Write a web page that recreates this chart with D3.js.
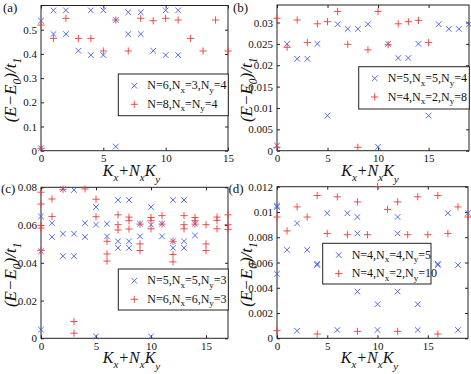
<!DOCTYPE html>
<html>
<head>
<meta charset="utf-8">
<script src="https://cdn.jsdelivr.net/npm/d3@7"></script>
<style>
  body { margin: 0; background: #fff; }
  svg { display: block; }
  svg text { font-family: "Times New Roman", "Liberation Serif", "DejaVu Serif", serif; fill: #111; }
</style>
</head>
<body>
<div id="chart"></div>
<script>
"use strict";

// panel (a): N=6,Nx=3,Ny=4 (blue x) and N=8,Nx=Ny=4 (red +)
var aBlue = [[0,0.537],[0,0.01],[1,0.482],[1,0.58],[2,0.58],[2,0.482],[3,0.413],[4,0.58],[4,0.395],
  [5,0.58],[5,0.395],[6,0.54],[6,0.017],[7,0.572],[7,0.482],[8,0.572],[8,0.482],[9,0.413],
  [10,0.58],[10,0.395],[11,0.58],[11,0.395]];
var aRed = [[0,0.519],[0,0.01],[1,0.464],[2,0.547],[3,0.464],[4,0.464],[5,0.412],[6,0.54],[7,0.412],
  [8,0.547],[9,0.537],[10,0.547],[11,0.54],[12,0.464],[13,0.412],[14,0.54],[15,0.412]];

// panel (b): N=5,Nx=5,Ny=4 (blue x) and N=4,Nx=2,Ny=8 (red +)
var bBlue = [[0,0.0012],[1,0.025],[2,0.0215],[3,0.0215],[4,0.025],[5,0.0082],[6,0.0296],[7,0.0285],
  [8,0.0285],[9,0.0296],[10,0.0009],[11,0.025],[12,0.0217],[13,0.0217],[14,0.025],[15,0.0082],
  [16,0.0296],[17,0.0285],[18,0.0285],[19,0.0296]];
var bRed = [[0,0.031],[0,0.0008],[1,0.0242],[2,0.0306],[3,0.0253],[4,0.0297],[5,0.0302],[6,0.0326],
  [7,0.0249],[8,0.0008],[9,0.0236],[10,0.0326],[11,0.0248],[12,0.0297],[13,0.0302],[14,0.0305],
  [15,0.0253]];

// panel (c): N=5,Nx=5,Ny=3 (blue x) and N=6,Nx=6,Ny=3 (red +)
var cBlue = [[0,0.0646],[0,0.0461],[0,0.0046],[1,0.061],[1,0.0537],[2,0.079],[2,0.0554],[2,0.0435],
  [3,0.0786],[3,0.0554],[3,0.0435],[4,0.061],[4,0.0537],[5,0.0695],[5,0.0602],[5,0.001],
  [6,0.0607],[6,0.054],[7,0.0733],[7,0.0514],[7,0.0479],[8,0.0733],[8,0.0514],[8,0.0479],
  [9,0.0607],[9,0.054],[10,0.0695],[10,0.0602],[10,0.001],[11,0.0607],[11,0.054],
  [12,0.0733],[12,0.0514],[12,0.0479],[13,0.0733],[13,0.0514],[13,0.0479],[14,0.0607],[14,0.0545]];
var cRed = [[0,0.0774],[0,0.0711],[0,0.0598],[0,0.0584],[0,0.0465],[1,0.0738],[1,0.0645],[2,0.0789],
  [3,0.0089],[3,0.0027],[4,0.0791],[5,0.0737],[5,0.0644],[6,0.0514],[6,0.0447],[6,0.0409],
  [7,0.0654],[7,0.0602],[7,0.0574],[8,0.0642],[8,0.0623],[8,0.0579],[9,0.0605],[9,0.05],[9,0.0465],
  [10,0.064],[10,0.0623],[10,0.058],[11,0.065],[11,0.0605],[12,0.0514],[12,0.0444],[12,0.0405],
  [13,0.065],[13,0.0602],[13,0.058],[14,0.064],[14,0.0623],[14,0.0605],[15,0.0602],[15,0.05],
  [15,0.0465],[16,0.0642],[16,0.0625],[16,0.058],[17,0.0654],[17,0.0602],[17,0.0577]];

// panel (d): N=4,Nx=4,Ny=5 (blue x) and N=4,Nx=2,Ny=10 (red +)
var dBlue = [[0,0.0105],[0,0.0104],[0,0.0051],[1,0.007],[2,0.0091],[2,0.0006],[3,0.007],[4,0.0058],
  [4,0.0059],[5,0.0099],[6,0.00066],[7,0.0099],[8,0.0096],[8,0.0083],[8,0.0037],[10,0.0027],
  [10,0.00066],[12,0.0096],[12,0.0083],[12,0.0037],[14,0.0027],[14,0.00066],[16,0.0058],[16,0.0059],
  [17,0.0099],[18,0.0058],[18,0.00066],[19,0.0099]];
var dRed = [[0,0.0096],[0,0.0006],[1,0.0085],[2,0.0104],[3,0.0096],[4,0.0113],[4,0.00034],[5,0.0083],
  [6,0.0112],[7,0.0082],[8,0.0108],[8,0.00055],[9,0.0082],[10,0.012],[11,0.0102],[12,0.0108],
  [12,0.00055],[13,0.0082],[14,0.0112],[15,0.0082],[16,0.0113],[16,0.00034],[17,0.0083],[18,0.0104],
  [19,0.0096]];

var xTicks = [0, 5, 10, 15];
var aYTicks = [0, 0.1, 0.2, 0.3, 0.4, 0.5];
var bYTicks = [0, 0.005, 0.01, 0.015, 0.02, 0.025, 0.03];
var cYTicks = [0, 0.02, 0.04, 0.06, 0.08];
var dYTicks = [0, 0.002, 0.004, 0.006, 0.008, 0.01, 0.012];

var panelTags = ["(a)", "(b)", "(c)", "(d)"];
var legendNames = [
  [["N=6,N", "x", "=3,N", "y", "=4"], ["N=8,N", "x", "=N", "y", "=4"]],
  [["N=5,N", "x", "=5,N", "y", "=4"], ["N=4,N", "x", "=2,N", "y", "=8"]],
  [["N=5,N", "x", "=5,N", "y", "=3"], ["N=6,N", "x", "=6,N", "y", "=3"]],
  [["N=4,N", "x", "=4,N", "y", "=5"], ["N=4,N", "x", "=2,N", "y", "=10"]]
];

var SERIF = "'Times New Roman', 'Liberation Serif', 'DejaVu Serif', serif";
var BLUE = "#3f5cf0";
var RED = "#f03a3a";

var panels = [
  { box: [41, 228, 5.5, 150.7], xMax: 15, yMax: 0.6, yTicks: aYTicks, blue: aBlue, red: aRed,
    legend: [118.3, 74, 110, 41.7], tag: [3, 12] },
  { box: [277, 469, 5, 150.7], xMax: 19, yMax: 0.0341, yTicks: bYTicks, blue: bBlue, red: bRed,
    legend: [358.7, 66.7, 110.6, 42.3], tag: [233, 12] },
  { box: [41, 228, 187.3, 338.3], xMax: 17, yMax: 0.08, yTicks: cYTicks, blue: cBlue, red: cRed,
    legend: [118.3, 269, 110, 41], tag: [1, 193] },
  { box: [277, 468, 186.7, 338.3], xMax: 19, yMax: 0.012, yTicks: dYTicks, blue: dBlue, red: dRed,
    legend: [322.7, 243.3, 108.3, 40.7], tag: [228.5, 193] }
];

var svg = d3.select("#chart").append("svg")
  .attr("width", 471)
  .attr("height", 374);

function fmt(d) {
  return d === 0 ? "0" : String(+d.toFixed(4));
}

function crossPath(x, y, s) {
  return "M" + (x - s) + "," + (y - s) + "L" + (x + s) + "," + (y + s) +
         "M" + (x - s) + "," + (y + s) + "L" + (x + s) + "," + (y - s);
}
function plusPath(x, y, s) {
  return "M" + (x - s) + "," + y + "L" + (x + s) + "," + y +
         "M" + x + "," + (y - s) + "L" + x + "," + (y + s);
}

function subLabel(sel, parts, big, small) {
  // alternating normal / subscript pieces
  parts.forEach(function (p, i) {
    var sub = i % 2 === 1;
    sel.append("tspan")
      .attr("font-size", sub ? small : big)
      .attr("dy", i === 0 ? 0 : (sub ? big * 0.3 : -big * 0.3))
      .text(p);
  });
}

panels.forEach(function (p, k) {
  var L = p.box[0], R = p.box[1], T = p.box[2], B = p.box[3];
  var x = d3.scaleLinear().domain([0, p.xMax]).range([L, R]);
  var y = d3.scaleLinear().domain([0, p.yMax]).range([B, T]);
  var g = svg.append("g");

  // axes, ticks pointing inward
  var ax = [
    [d3.axisBottom(x).tickValues(xTicks).tickFormat(fmt), B, null],
    [d3.axisTop(x).tickValues(xTicks).tickFormat(""), T, null],
    [d3.axisLeft(y).tickValues(p.yTicks).tickFormat(fmt), null, L],
    [d3.axisRight(y).tickValues(p.yTicks).tickFormat(""), null, R]
  ];
  ax.forEach(function (a) {
    var gg = g.append("g")
      .attr("transform", a[1] !== null ? "translate(0," + a[1] + ")" : "translate(" + a[2] + ",0)")
      .call(a[0].tickSizeInner(-3).tickSizeOuter(0).tickPadding(4));
    gg.attr("font-family", SERIF);
    gg.select(".domain").remove();
    gg.selectAll("line").attr("stroke", "#222");
    gg.selectAll("text")
      .attr("font-size", 11)
      .attr("fill", "#222");
  });

  g.append("rect")
    .attr("x", L).attr("y", T)
    .attr("width", R - L).attr("height", B - T)
    .attr("fill", "none")
    .attr("stroke", "#222")
    .attr("stroke-width", 1);

  // markers
  g.append("g").selectAll("path")
    .data(p.blue)
    .enter().append("path")
    .attr("d", function (d) { return crossPath(x(d[0]), y(d[1]), 2.8); })
    .attr("stroke", BLUE)
    .attr("stroke-width", 0.9)
    .attr("fill", "none");

  g.append("g").selectAll("path")
    .data(p.red)
    .enter().append("path")
    .attr("d", function (d) { return plusPath(x(d[0]), y(d[1]), 3.6); })
    .attr("stroke", RED)
    .attr("stroke-width", 0.9)
    .attr("fill", "none");

  // y label
  var cy = (T + B) / 2 + 12;
  var yl = g.append("text")
    .attr("transform", "translate(" + (L - 25) + "," + cy + ") rotate(-90)")
    .attr("text-anchor", "middle")
    .attr("font-style", "italic");
  subLabel(yl, ["(E\u2212E", "0", ")/t", "1"], 17, 11.5);

  // x label
  var xl = g.append("text")
    .attr("x", (L + R) / 2 - 3)
    .attr("y", B + 25)
    .attr("text-anchor", "middle")
    .attr("font-style", "italic");
  xl.append("tspan").attr("font-size", 16).text("K");
  xl.append("tspan").attr("font-size", 11).attr("dy", 5).text("x");
  xl.append("tspan").attr("font-size", 16).attr("dy", -5).text("+N");
  xl.append("tspan").attr("font-size", 11).attr("dy", 5).text("x");
  xl.append("tspan").attr("font-size", 16).attr("dy", -5).text("K");
  xl.append("tspan").attr("font-size", 11).attr("dy", 7).text("y");

  // panel tag
  g.append("text")
    .attr("x", p.tag[0]).attr("y", p.tag[1])
    .attr("font-size", 13)
    .text(panelTags[k]);

  // legend
  var lg = p.legend;
  g.append("rect")
    .attr("x", lg[0]).attr("y", lg[1])
    .attr("width", lg[2]).attr("height", lg[3])
    .attr("fill", "#fff")
    .attr("stroke", "#222");
  [[BLUE, crossPath, 2.8], [RED, plusPath, 3.6]].forEach(function (m, i) {
    var ry = lg[1] + 11.7 + i * 18.6;
    g.append("path")
      .attr("d", m[1](lg[0] + 16, ry, m[2]))
      .attr("stroke", m[0])
      .attr("stroke-width", 0.9)
      .attr("fill", "none");
    var t = g.append("text")
      .attr("x", lg[0] + 29)
      .attr("y", ry + 3.5);
    subLabel(t, legendNames[k][i], 12, 9);
  });
});
</script>
</body>
</html>
